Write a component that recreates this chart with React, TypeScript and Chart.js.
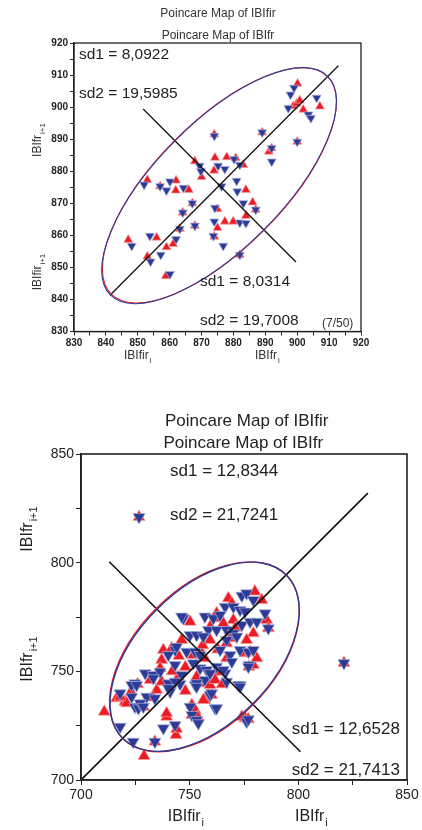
import React, { useEffect, useRef } from "react";
import { Chart, registerables } from "chart.js";

Chart.register(...registerables);

const FONT = '"Liberation Sans", Arial, Helvetica, sans-serif';
const RED = "#ec1c24";
const BLUE = "#2d3b96";
const INK = "#222222";
const ELLIPSE_K = 2.4477;

// ---------------- top panel data ----------------
const topTitles = ["Poincare Map of IBIfir", "Poincare Map of IBIfr"];
const topRange = [830, 920];
const topTickStep = 10;
const topNote = "(7/50)";
const topSdIBIfir = [8.0922, 19.5985];
const topSdIBIfr = [8.0314, 19.7008];
const topCenterIBIfir = [875.6, 875.6];
const topCenterIBIfr = [875.5, 875.5];
const topIdentity = [[841.3, 841.3], [912.9, 912.9]];
const topPerp = [[851.7, 899.4], [899.6, 851.7]];
const topIBIfir = [
  [847, 858.6], [853, 877.3], [853, 853.4], [855.9, 859.3], [857, 875.3], [858.8, 847.3],
  [859, 856.3], [861.1, 857.3], [862, 877.1], [861.9, 874], [863.2, 862], [864.1, 867.1],
  [866, 874.2], [867.1, 870], [867.9, 863], [867.9, 883.1], [870, 878.2], [873.9, 880.2],
  [874.2, 884.2], [874, 891.5], [874, 859.6], [875, 868.2], [875, 862.3], [877.3, 864.3],
  [877.9, 884.4], [879.9, 864.3], [880.7, 884.1], [882, 853.9], [883.1, 882], [883.9, 874.2],
  [883.9, 866.1], [886, 870.3], [887, 868], [889, 892.1], [891.1, 886.1], [892, 887.2],
  [898.7, 900.3], [899.8, 901.1], [900.8, 902.1], [900.1, 907.3], [901.9, 899.2],
  [907.1, 900.2], [900, 889.2],
];
const topIBIfr = [
  [848.1, 856.7], [852, 875.8], [853.8, 859.8], [854, 851.8], [857, 875.3], [857.2, 853.9],
  [859, 874], [860.1, 876.8], [860.1, 847.9], [862, 858.8], [863.2, 862], [864.1, 867.1],
  [864.3, 874.8], [867.1, 870], [867.9, 863], [869.4, 881.7], [869.8, 880], [873.7, 859.8],
  [874, 864.3], [874.2, 868.6], [874, 891], [875.2, 881.7], [877.3, 880.7], [876.3, 875.3],
  [876.8, 856.7], [880.2, 883.8], [881, 877], [881.2, 873.7], [882, 882], [882, 864],
  [882, 853.9], [883.1, 870], [883.9, 863.8], [887, 868], [889, 892.1], [892, 887.2],
  [892, 883], [897.2, 899.7], [897.9, 903.9], [899, 906], [900, 889.2], [903.5, 897.7],
  [904.3, 896.6], [906.1, 902.9],
];

// ---------------- bottom panel data ----------------
const botTitles = ["Poincare Map of IBIfir", "Poincare Map of IBIfr"];
const botRange = [700, 850];
const botTickStep = 50;
const botSdIBIfir = [12.8344, 21.7241];
const botSdIBIfr = [12.6528, 21.7413];
const botCenterIBIfir = [756.8, 756.7];
const botCenterIBIfr = [756.9, 756.7];
const botIdentity = [[700, 700], [832, 832]];
const botPerp = [[713, 800.4], [801, 713]];
const botIBIfir = [
  [710.7, 731.4], [729, 711], [739.4, 729.1], [743.7, 720.7], [744, 723.5], [734, 717.6],
  [751, 734.5], [751, 729.9], [752.5, 732.2], [757, 736.8], [720.2, 736], [716.4, 737.6],
  [723, 740.6], [728.7, 733.7], [734.8, 741.4], [737.1, 745.2], [737.9, 759.8], [737.1, 755.2],
  [775.5, 728.4], [758.6, 739.1], [757.8, 744.5], [753.7, 729.1], [777, 727.9], [777.3, 752.1],
  [779.3, 752.9], [759.4, 743.7], [762.4, 749.8], [767.8, 783.6], [780, 786.7], [783.2, 782.8],
  [750.2, 772.8], [785.4, 773.6], [786.2, 769.8], [770.1, 773.6], [764, 774.4], [765.5, 772.1],
  [746.3, 764.4], [759.4, 764.4], [775.5, 758.3], [780.9, 756], [767, 756], [757, 756],
  [754.8, 759.8], [751.7, 757.5], [744.8, 747.5], [753.2, 747.5], [761.7, 746], [736.4, 751.4],
  [731.8, 746], [721, 735.3], [718, 738.3], [756.3, 736.8], [760.1, 739.1], [774, 729.1],
  [739.4, 730.7], [779.3, 767.5], [776.2, 764.4], [768.6, 765.2], [767, 762.9], [759.4, 770.5],
  [741.7, 760.6], [777.8, 759], [762.4, 776.7], [769.4, 781.3], [726.7, 821], [821, 753.8],
  [748, 752], [745, 757], [763, 760], [771, 770], [756, 762], [742, 750], [733, 738],
  [726, 744], [765, 744], [748, 741],
];
const botIBIfr = [
  [718, 739.9], [718, 724.5], [724, 717.6], [734, 717.6], [737.9, 723.8], [743.3, 725.3],
  [724.8, 733.7], [726.4, 733], [730.2, 738.3], [734, 737.6], [724.8, 744.5], [723.3, 743.7],
  [729.5, 749.1], [733.3, 748.3], [740.2, 744.5], [752.5, 743.7], [757, 746], [759.4, 739.1],
  [761.7, 733], [750.2, 733.7], [751, 729.9], [753.2, 727.6], [754, 726.1], [743.3, 759.8],
  [744, 761.3], [776.2, 726.8], [777, 727.9], [777.4, 752.9], [773.2, 743.7], [767, 745.2],
  [766.3, 749.1], [760.1, 739.9], [772.4, 743.7], [741, 740.6], [745.6, 744.2], [774, 784.8],
  [776.2, 785.9], [779.3, 782.8], [766.3, 779.7], [770.1, 779.7], [773.2, 778.2], [775.5, 777.5],
  [757, 775.2], [760.9, 774.4], [764, 775.9], [747.1, 774.4], [758.6, 769], [762.4, 769],
  [767, 769], [774, 771.3], [777.8, 772.8], [780.9, 772.8], [784.7, 776.7], [786.2, 769.8],
  [770.1, 767.5], [767, 764.4], [771.7, 766], [750.2, 766.7], [753.2, 766.7], [756.3, 766],
  [748.6, 759], [752.5, 759], [754.8, 757.5], [764, 759.8], [768.6, 757.5], [773.2, 759.8],
  [777, 759], [779.3, 759.8], [769.4, 754.4], [777, 752.1], [740.2, 757.5], [743.3, 752.9],
  [736.4, 749.8], [733.3, 746.8], [751.7, 753.7], [754.8, 751.4], [757.8, 750.6], [762.4, 752.1],
  [765.5, 750.6], [753.2, 744.5], [759.4, 749.1], [746.3, 748.3], [743.3, 745.2], [740.2, 742.2],
  [725.6, 743.7], [727.2, 735.3], [753.2, 742.9], [762.4, 733], [773.2, 742.9], [746.3, 775.2],
  [726.7, 821], [821, 753.8], [723.3, 738.3], [728.7, 733.7],
];

// ---------------- helpers ----------------
type Txt = {
  t: string; sub?: string; x: number; y: number; size: number; subSize?: number;
  align?: "left" | "center"; rot?: boolean; color?: string;
};

const fmt = (v: number) => v.toFixed(4).replace(".", ",");
const pts = (a: number[][]) => a.map(([x, y]) => ({ x, y }));

function drawTxt(ctx: CanvasRenderingContext2D, s: Txt) {
  ctx.save();
  ctx.translate(s.x, s.y);
  if (s.rot) ctx.rotate(-Math.PI / 2);
  ctx.fillStyle = s.color || INK;
  ctx.textBaseline = "middle";
  ctx.textAlign = "left";
  ctx.font = `${s.size}px ${FONT}`;
  const w1 = ctx.measureText(s.t).width;
  let w2 = 0;
  const ss = s.subSize || Math.round(s.size * 0.68);
  if (s.sub) {
    ctx.font = `${ss}px ${FONT}`;
    w2 = ctx.measureText(s.sub).width + 1;
  }
  const total = w1 + w2;
  const sx = s.align === "center" ? -total / 2 : 0;
  ctx.font = `${s.size}px ${FONT}`;
  ctx.fillText(s.t, sx, 0);
  if (s.sub) {
    ctx.font = `${ss}px ${FONT}`;
    ctx.fillText(s.sub, sx + w1 + 1, s.size * 0.38);
  }
  ctx.restore();
}

const overlayPlugin = {
  id: "overlay",
  afterDatasetsDraw(chart: any, _a: any, opts: any) {
    const { ctx, scales } = chart;
    const xs = scales.x, ys = scales.y;
    for (const e of opts.ellipses) {
      const cx = xs.getPixelForValue(e.c[0]);
      const cy = ys.getPixelForValue(e.c[1]);
      const kx = Math.abs(xs.getPixelForValue(e.c[0] + 1) - cx);
      const ky = Math.abs(ys.getPixelForValue(e.c[1] + 1) - cy);
      ctx.save();
      ctx.beginPath();
      ctx.translate(cx, cy);
      ctx.scale(kx, -ky);
      ctx.rotate(Math.PI / 4);
      ctx.ellipse(0, 0, ELLIPSE_K * e.sd[1], ELLIPSE_K * e.sd[0], 0, 0, Math.PI * 2);
      ctx.restore();
      ctx.save();
      ctx.strokeStyle = e.color;
      ctx.lineWidth = opts.ellipseWidth;
      ctx.stroke();
      ctx.restore();
    }
  },
  afterDraw(chart: any, _a: any, opts: any) {
    const { ctx, chartArea: a } = chart;
    ctx.save();
    ctx.strokeStyle = INK;
    ctx.lineWidth = opts.frameWidth;
    ctx.strokeRect(a.left, a.top, a.right - a.left, a.bottom - a.top);
    ctx.restore();
    for (const t of opts.texts) drawTxt(ctx, t);
  },
};

type Panel = {
  h: number; top: number;
  area: { left: number; top: number; right: number; bottom: number };
  range: number[]; step: number; tickFont: any;
  red: number[][]; blue: number[][];
  identity: number[][]; perp: number[][];
  ellipses: any[]; texts: Txt[];
  r: number; lineW: number; frameW: number; ellipseW: number; tickLen: number;
};

function buildConfig(p: Panel): any {
  const W = 422;
  const axis = (isX: boolean) => ({
    type: "linear",
    min: p.range[0],
    max: p.range[1],
    afterFit: (s: any) => {
      if (isX) s.height = p.h - p.area.bottom;
      else s.width = p.area.left;
    },
    ticks: {
      stepSize: p.step / 2,
      autoSkip: false,
      maxRotation: 0,
      color: INK,
      font: p.tickFont,
      padding: 2,
      callback: (v: number) => (Math.round(v) % p.step === 0 ? String(v) : ""),
    },
    grid: {
      drawOnChartArea: false,
      drawTicks: true,
      tickLength: p.tickLen,
      color: INK,
      lineWidth: 1,
    },
    border: { display: true, color: INK, width: p.frameW },
  });
  const lineDs = (d: number[][]) => ({
    data: pts(d),
    showLine: true,
    borderColor: "#111",
    borderWidth: p.lineW,
    pointRadius: 0,
    order: 0,
  });
  return {
    type: "scatter",
    data: {
      datasets: [
        lineDs(p.identity),
        lineDs(p.perp),
        {
          data: pts(p.blue),
          pointStyle: "triangle",
          pointRotation: 180,
          pointRadius: p.r,
          pointBackgroundColor: BLUE,
          pointBorderColor: "#a9b2dc",
          pointBorderWidth: 0.7,
          order: 1,
        },
        {
          data: pts(p.red),
          pointStyle: "triangle",
          pointRotation: 0,
          pointRadius: p.r,
          pointBackgroundColor: RED,
          pointBorderColor: "#f6a3a6",
          pointBorderWidth: 0.7,
          order: 2,
        },
      ],
    },
    options: {
      responsive: false,
      animation: false,
      events: [],
      layout: {
        padding: { left: 0, top: p.area.top, right: W - p.area.right, bottom: 0 },
      },
      scales: { x: axis(true), y: axis(false) },
      plugins: {
        legend: { display: false },
        tooltip: { enabled: false },
        overlay: {
          ellipses: p.ellipses,
          texts: p.texts,
          frameWidth: p.frameW,
          ellipseWidth: p.ellipseW,
        },
      },
    },
    plugins: [overlayPlugin],
  };
}

const topPanel: Panel = {
  h: 385,
  top: 0,
  area: { left: 74, top: 43, right: 361, bottom: 331.5 },
  range: topRange,
  step: topTickStep,
  tickFont: { family: FONT, size: 10, weight: "bold" },
  red: topIBIfir,
  blue: topIBIfr,
  identity: topIdentity,
  perp: topPerp,
  ellipses: [
    { c: topCenterIBIfir, sd: topSdIBIfir, color: RED },
    { c: topCenterIBIfr, sd: topSdIBIfr, color: BLUE },
  ],
  texts: [
    { t: topTitles[0], x: 218, y: 13.5, size: 12, align: "center", color: "#333" },
    { t: topTitles[1], x: 218, y: 36, size: 12, align: "center", color: "#333" },
    { t: `sd1 = ${fmt(topSdIBIfir[0])}`, x: 79, y: 55, size: 15.5 },
    { t: `sd2 = ${fmt(topSdIBIfir[1])}`, x: 79, y: 93.5, size: 15.5 },
    { t: `sd1 = ${fmt(topSdIBIfr[0])}`, x: 200, y: 282, size: 15.5 },
    { t: `sd2 = ${fmt(topSdIBIfr[1])}`, x: 200, y: 321, size: 15.5 },
    { t: topNote, x: 322, y: 323.5, size: 12, color: "#333" },
    { t: "IBIfir", sub: "i", x: 124, y: 356, size: 12, subSize: 8, color: "#333" },
    { t: "IBIfr", sub: "i", x: 255, y: 356, size: 12, subSize: 8, color: "#333" },
    { t: "IBIfr", sub: "i+1", x: 38, y: 140, size: 12, subSize: 8, rot: true, align: "center", color: "#333" },
    { t: "IBIfir", sub: "i+1", x: 38, y: 272, size: 12, subSize: 8, rot: true, align: "center", color: "#333" },
  ],
  r: 5.2,
  lineW: 1.3,
  frameW: 1.3,
  ellipseW: 1.1,
  tickLen: 4,
};

const botPanel: Panel = {
  h: 445,
  top: 385,
  area: { left: 81, top: 69, right: 407, bottom: 395 },
  range: botRange,
  step: botTickStep,
  tickFont: { family: FONT, size: 14 },
  red: botIBIfir,
  blue: botIBIfr,
  identity: botIdentity,
  perp: botPerp,
  ellipses: [
    { c: botCenterIBIfir, sd: botSdIBIfir, color: RED },
    { c: botCenterIBIfr, sd: botSdIBIfr, color: BLUE },
  ],
  texts: [
    { t: botTitles[0], x: 246.7, y: 36.7, size: 17, align: "center" },
    { t: botTitles[1], x: 243.3, y: 58.3, size: 17, align: "center" },
    { t: `sd1 = ${fmt(botSdIBIfir[0])}`, x: 170, y: 86.7, size: 17 },
    { t: `sd2 = ${fmt(botSdIBIfir[1])}`, x: 170, y: 130, size: 17 },
    { t: `sd1 = ${fmt(botSdIBIfr[0])}`, x: 291.7, y: 344.3, size: 17 },
    { t: `sd2 = ${fmt(botSdIBIfr[1])}`, x: 291.7, y: 385, size: 17 },
    { t: "IBIfir", sub: "i", x: 167.7, y: 431.7, size: 16, subSize: 11 },
    { t: "IBIfr", sub: "i", x: 295, y: 431.7, size: 16, subSize: 11 },
    { t: "IBIfr", sub: "i+1", x: 28, y: 144, size: 16, subSize: 11, rot: true, align: "center" },
    { t: "IBIfr", sub: "i+1", x: 28, y: 274, size: 16, subSize: 11, rot: true, align: "center" },
  ],
  r: 7,
  lineW: 1.6,
  frameW: 1.6,
  ellipseW: 1.4,
  tickLen: 5,
};

function PanelChart({ p }: { p: Panel }) {
  const ref = useRef<HTMLCanvasElement>(null);
  useEffect(() => {
    if (!ref.current) return;
    const c = new Chart(ref.current, buildConfig(p));
    return () => c.destroy();
  }, [p]);
  return (
    <canvas
      ref={ref}
      width={422}
      height={p.h}
      style={{ position: "absolute", left: 0, top: p.top, width: 422, height: p.h, display: "block" }}
    />
  );
}

export default function App() {
  return (
    <div style={{ position: "absolute", left: 0, top: 0, width: 422, height: 830, background: "#fff" }}>
      <PanelChart p={topPanel} />
      <PanelChart p={botPanel} />
    </div>
  );
}
